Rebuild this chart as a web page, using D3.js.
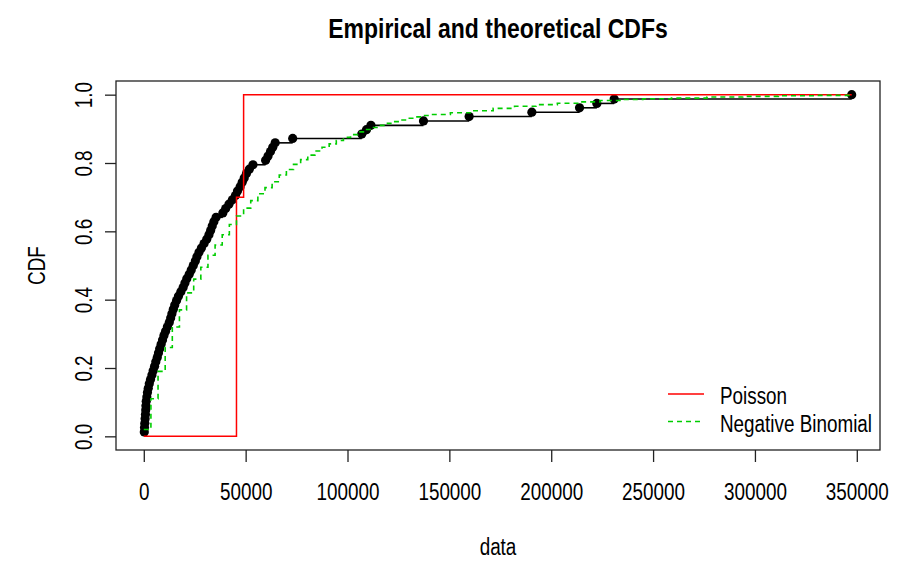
<!DOCTYPE html>
<html>
<head>
<meta charset="utf-8">
<script src="https://cdn.jsdelivr.net/npm/d3@7.9.0/dist/d3.min.js"></script>
<style>
  body { margin: 0; background: #fff; }
  svg text { font-family: 'Liberation Sans', Arial, sans-serif; fill: #000; }
</style>
</head>
<body>
<svg id="chart" width="909" height="563"></svg>
<script>
const obs = [250, 350, 500, 650, 800, 950, 1050, 1200, 1500, 1800,
  2200, 2700, 3300, 4000, 4600, 5300, 5900, 6600, 7200, 7800,
  8500, 9200, 9900, 10700, 11600, 12500, 13200, 13800, 14500, 15200,
  16100, 17000, 18200, 19300, 20200, 21100, 22300, 23300, 24300, 25300,
  26100, 27100, 28300, 29600, 30900, 32000, 32800, 33600, 34400, 35500,
  38800, 40200, 41800, 43500, 45000, 46000, 47300, 48300, 49300, 50400,
  51800, 53600, 59800, 61000, 62200, 63300, 64500, 73100, 107000, 109300,
  111500, 137300, 159700, 190500, 213900, 222400, 230900, 347500];

// Poisson fitted CDF (evaluation grid)
const poisX = [0, 45500, 49000, 347500];
const poisCdf = [0, 0.70, 1.0, 1.0];

// Negative binomial fitted CDF (evaluation grid)
const nbX = [0, 3500, 7000, 10500, 14000, 17500, 21000, 24500, 28000, 31500,
  35000, 38500, 42000, 45500, 49000, 52500, 56000, 59500, 63000, 66500,
  70000, 73500, 77000, 80500, 84000, 87500, 91000, 94500, 98000, 101500,
  105000, 108500, 112000, 115500, 119000, 122500, 126000, 129500, 133000, 136500,
  140000, 150500, 161000, 171500, 182000, 192500, 203000, 213500, 224000, 234500,
  245000, 259000, 276500, 294000, 311500, 329000, 347500];
const nbCdf = [0.02, 0.11, 0.19, 0.26, 0.32, 0.37, 0.42, 0.46, 0.495, 0.53,
  0.56, 0.59, 0.62, 0.645, 0.668, 0.69, 0.71, 0.728, 0.745, 0.765,
  0.781, 0.796, 0.81, 0.823, 0.835, 0.846, 0.856, 0.866, 0.875, 0.883,
  0.891, 0.898, 0.904, 0.91, 0.916, 0.921, 0.926, 0.931, 0.935, 0.939,
  0.942, 0.947, 0.953, 0.96, 0.966, 0.971, 0.975, 0.979, 0.983, 0.986,
  0.988, 0.99, 0.993, 0.995, 0.997, 0.998, 0.999];

const xTicks = [0, 50000, 100000, 150000, 200000, 250000, 300000, 350000];
const yTicks = [0, 0.2, 0.4, 0.6, 0.8, 1.0];
const legendLabels = ["Poisson", "Negative Binomial"];
const legendColors = ["#ff0000", "#00cd00"];

const svg = d3.select('#chart');
const mLeft = 116, mRight = 880, mTop = 81, mBottom = 450;

// the reference font is a condensed sans, squeeze text horizontally
function narrow(sel) {
  sel.each(function () {
    const w = this.getComputedTextLength();
    d3.select(this).attr('textLength', w * 0.82).attr('lengthAdjust', 'spacingAndGlyphs');
  });
}

// R style axis range: data range extended by 4% each side
const xmin = d3.min(obs), xmax = d3.max(obs);
const xpad = 0.04 * (xmax - xmin);
let x = d3.scaleLinear().domain([xmin - xpad, xmax + xpad]).range([mLeft, mRight]);
let y = d3.scaleLinear().domain([-0.04, 1.04]).range([mBottom, mTop]);

// empirical cdf: horizontal segments + points
const n = obs.length;
const ecdf = obs.map((v, i) => ({ x: v, p: (i + 1) / n }));

svg.append('g')
  .selectAll('line')
  .data(d3.pairs(ecdf))
  .join('line')
  .attr('x1', d => x(d[0].x))
  .attr('x2', d => x(d[1].x))
  .attr('y1', d => y(d[0].p))
  .attr('y2', d => y(d[0].p))
  .attr('stroke', '#000')
  .attr('stroke-width', 1.6);

svg.append('g')
  .selectAll('circle')
  .data(ecdf)
  .join('circle')
  .attr('cx', d => x(d.x))
  .attr('cy', d => y(d.p))
  .attr('r', 4.6)
  .attr('fill', '#000');

// fitted curves, drawn as steps
let stepLine = d3.line()
  .x(d => x(d[0]))
  .y(d => y(d[1]))
  .curve(d3.curveStepAfter);

svg.append('path')
  .attr('d', stepLine(d3.zip(poisX, poisCdf)))
  .attr('fill', 'none')
  .attr('stroke', legendColors[0])
  .attr('stroke-width', 1.5);

svg.append('path')
  .attr('d', stepLine(d3.zip(nbX, nbCdf)))
  .attr('fill', 'none')
  .attr('stroke', legendColors[1])
  .attr('stroke-width', 1.6)
  .attr('stroke-dasharray', '5,4');

// box
svg.append('rect')
  .attr('x', mLeft).attr('y', mTop)
  .attr('width', mRight - mLeft).attr('height', mBottom - mTop)
  .attr('fill', 'none')
  .attr('stroke', '#222')
  .attr('stroke-width', 1.3);

// x axis
let xAxis = svg.append('g')
  .attr('transform', `translate(0,${mBottom})`)
  .call(d3.axisBottom(x).tickValues(xTicks).tickSize(12).tickPadding(22).tickFormat(d3.format('d')));
xAxis.select('.domain').remove();
xAxis.selectAll('line').attr('stroke', '#222').attr('stroke-width', 1.3);
xAxis.selectAll('text').attr('font-size', 23).attr('fill', '#000').call(narrow);

// y axis
let yAxis = svg.append('g')
  .attr('transform', `translate(${mLeft},0)`)
  .call(d3.axisLeft(y).tickValues(yTicks).tickSize(11).tickFormat(d3.format('.1f')));
yAxis.select('.domain').remove();
yAxis.selectAll('line').attr('stroke', '#222').attr('stroke-width', 1.3);
yAxis.selectAll('text')
  .attr('font-size', 23)
  .attr('fill', '#000')
  .attr('text-anchor', 'middle')
  .attr('dy', null)
  .attr('x', null)
  .attr('transform', 'translate(-24,0) rotate(-90)')
  .call(narrow);

// titles
svg.append('text')
  .attr('x', (mLeft + mRight) / 2).attr('y', 38)
  .attr('text-anchor', 'middle')
  .attr('font-size', 28)
  .attr('font-weight', 'bold')
  .text('Empirical and theoretical CDFs')
  .call(narrow);

svg.append('text')
  .attr('x', (mLeft + mRight) / 2).attr('y', 555)
  .attr('text-anchor', 'middle')
  .attr('font-size', 23)
  .text('data')
  .call(narrow);

svg.append('text')
  .attr('transform', `translate(45,${(mTop + mBottom) / 2}) rotate(-90)`)
  .attr('text-anchor', 'middle')
  .attr('font-size', 23)
  .text('CDF')
  .call(narrow);

// legend (no box)
const legend = svg.append('g');
legendLabels.forEach((lab, i) => {
  let ly = 394 + i * 27.5;
  legend.append('line')
    .attr('x1', 668).attr('x2', 704)
    .attr('y1', ly).attr('y2', ly)
    .attr('stroke', legendColors[i])
    .attr('stroke-width', 1.5)
    .attr('stroke-dasharray', i === 1 ? '5,4' : null);
  legend.append('text')
    .attr('x', 720).attr('y', ly + 10)
    .attr('font-size', 23)
    .text(lab)
    .call(narrow);
});
</script>
</body>
</html>
